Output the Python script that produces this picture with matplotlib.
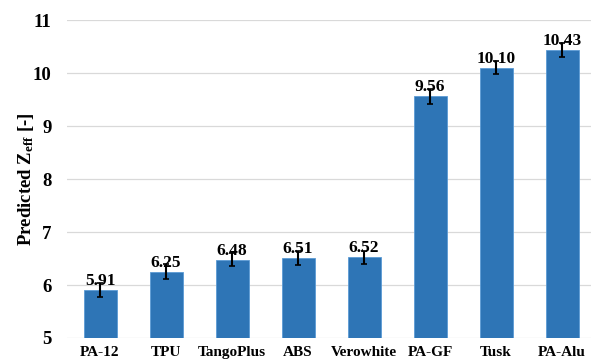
import matplotlib.pyplot as plt

materials = ['PA-12', 'TPU', 'TangoPlus', 'ABS', 'Verowhite', 'PA-GF', 'Tusk', 'PA-Alu']
zeff = [5.91, 6.25, 6.48, 6.51, 6.52, 9.56, 10.10, 10.43]
errors = [0.13, 0.14, 0.13, 0.13, 0.12, 0.14, 0.12, 0.13]

plt.rcParams['font.family'] = 'Liberation Serif'
plt.rcParams['font.weight'] = 'bold'
plt.rcParams['mathtext.fontset'] = 'custom'
plt.rcParams['mathtext.rm'] = 'Liberation Serif:bold'
plt.rcParams['mathtext.bf'] = 'Liberation Serif:bold'
plt.rcParams['mathtext.it'] = 'Liberation Serif:bold'

fig = plt.figure(figsize=(5.91, 3.62), dpi=100)
ax = fig.add_axes([67 / 591, 24 / 362, 528 / 591, 318 / 362])

x = range(len(materials))
ax.bar(x, zeff, width=0.5, color='#2E75B6', edgecolor='#5B9BD5', linewidth=0.6, zorder=2,
       yerr=errors, error_kw=dict(ecolor='black', elinewidth=1.5, capsize=2.5, capthick=1.2))

for i, v in enumerate(zeff):
    ax.text(i, v + 0.02, f'{v:.2f}', ha='center', va='bottom', fontsize=12.5, fontweight='bold', zorder=3)

ax.set_xlim(-0.5, 7.5)
ax.set_ylim(5, 11)
ax.set_yticks(range(5, 12))
ax.set_xticks(list(x))
ax.set_xticklabels(materials, fontsize=11, fontweight='bold')
ax.tick_params(axis='y', labelsize=13.5, length=0, pad=11)
ax.tick_params(axis='x', length=0, pad=6)
for lbl in ax.get_yticklabels():
    lbl.set_fontweight('bold')

ax.grid(axis='y', color='#D9D9D9', linewidth=0.9, zorder=0)
ax.set_axisbelow(True)
for s in ax.spines.values():
    s.set_visible(False)

ax.set_ylabel(r'Predicted $\mathrm{Z_{eff}}$ [-]', fontsize=13.5, fontweight='bold')
ax.yaxis.set_label_coords(-(67 - 36) / 528, 0.5)

fig.savefig('out.png', dpi=100)
